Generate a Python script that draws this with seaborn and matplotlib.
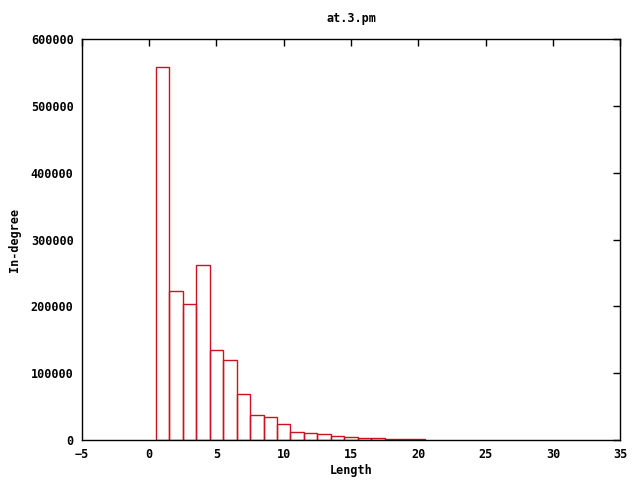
import numpy as np
import pandas as pd
import seaborn as sns
import matplotlib
matplotlib.use('Agg')
import matplotlib.pyplot as plt

lengths = list(range(1, 21))
indegree = [558000, 223000, 203000, 262000, 134500, 119500, 68800, 37400, 34400, 23800,
            11500, 10500, 9000, 6000, 4500, 2800, 2500, 1500, 1500, 1000]

df = pd.DataFrame({'length': lengths, 'count': indegree})

sns.set_theme(style='white')
plt.rcParams['font.family'] = ['DejaVu Sans Mono', 'DejaVu Sans']
plt.rcParams['font.weight'] = 'bold'
plt.rcParams['text.color'] = 'black'
plt.rcParams['axes.labelcolor'] = 'black'

fig = plt.figure(figsize=(6.4, 4.8), dpi=100)
ax = fig.add_axes([0.128, 0.083, 0.841, 0.836])

sns.histplot(data=df, x='length', weights='count', discrete=True,
             fill=False, color='#cc1122', linewidth=1.0, ax=ax)

ax.set_xlim(-5, 35)
ax.set_ylim(0, 600000)
ax.set_xticks(range(-5, 36, 5))
ax.set_yticks(range(0, 600001, 100000))
ax.tick_params(direction='in', top=True, right=True, length=5, width=1, labelsize=8.5,
               colors='black', pad=6)
for lab in ax.get_xticklabels() + ax.get_yticklabels():
    lab.set_fontweight('bold')
for s in ax.spines.values():
    s.set_color('black')
    s.set_linewidth(1)
ax.set_xlabel('Length', fontsize=8.5, fontweight='bold', labelpad=2, color='black')
ax.set_ylabel('In-degree', fontsize=8.5, fontweight='bold', labelpad=7, color='black')
ax.set_title('at.3.pm', fontsize=8.5, fontweight='bold', pad=12, color='black')

fig.savefig('out.png', dpi=100, facecolor='white')
